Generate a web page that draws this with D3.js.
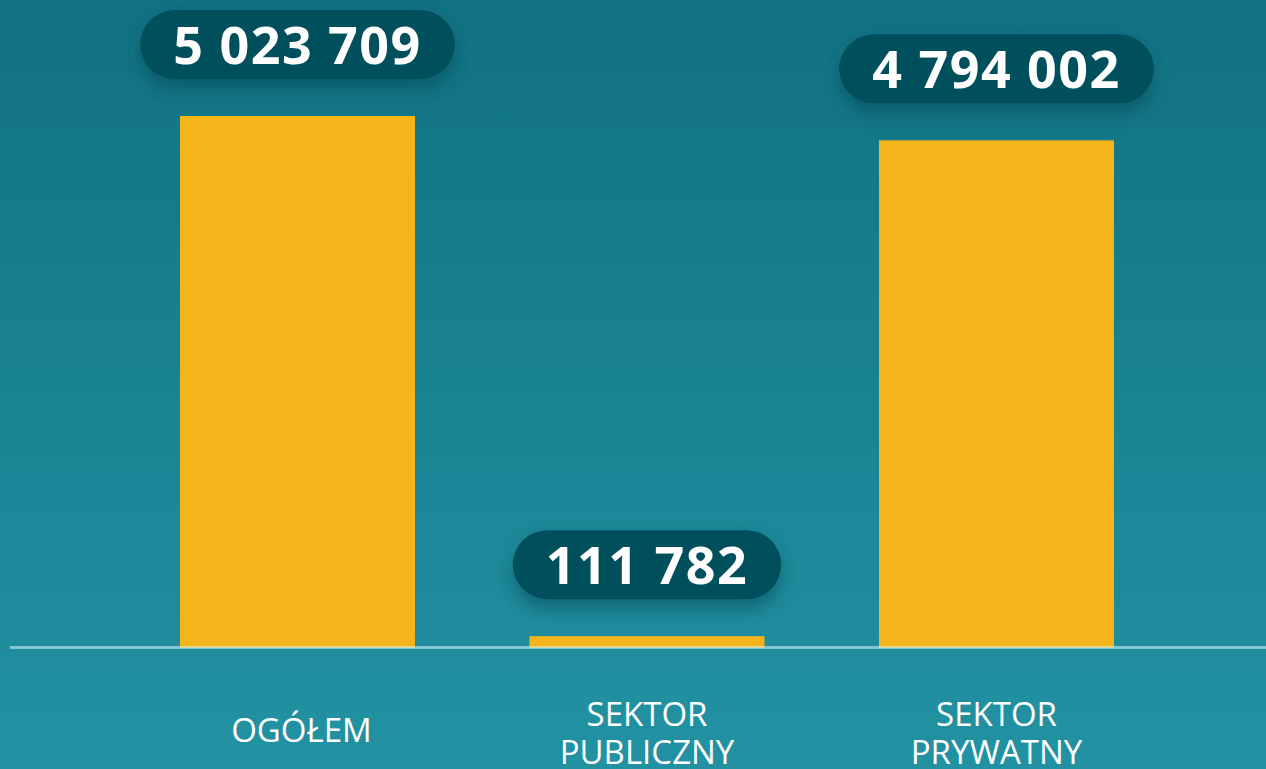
<!DOCTYPE html>
<html>
<head>
<meta charset="utf-8">
<script src="https://cdn.jsdelivr.net/npm/d3@7"></script>
<style>
  html, body { margin: 0; padding: 0; overflow: hidden; }
  #myPlot { width: 1266px; height: 769px; }
</style>
</head>
<body>
<div id="myPlot"></div>
<script>
// chart data
const categories = ['OGÓŁEM', 'SEKTOR PUBLICZNY', 'SEKTOR PRYWATNY'];
const categoryLines = [['OGÓŁEM'], ['SEKTOR', 'PUBLICZNY'], ['SEKTOR', 'PRYWATNY']];
const values = [5023709, 111782, 4794002];
const valueLabels = ['5 023 709', '111 782', '4 794 002'];

const width = 1266;
const height = 769;
const baseY = 648;

const svg = d3.select('#myPlot')
  .append('svg')
    .attr('width', width)
    .attr('height', height);

const defs = svg.append('defs');
const grad = defs.append('linearGradient')
  .attr('id', 'bg')
  .attr('x1', 0).attr('y1', 0).attr('x2', 0).attr('y2', 1);
grad.append('stop').attr('offset', '0%').attr('stop-color', '#107282');
grad.append('stop').attr('offset', '100%').attr('stop-color', '#2292a3');

const shadow = defs.append('filter')
  .attr('id', 'shadow')
  .attr('x', '-20%').attr('y', '-30%')
  .attr('width', '140%').attr('height', '190%');
shadow.append('feDropShadow')
  .attr('dx', 0).attr('dy', 10)
  .attr('stdDeviation', 9)
  .attr('flood-color', '#043c46')
  .attr('flood-opacity', 0.45);

svg.append('rect')
  .attr('width', width)
  .attr('height', height)
  .attr('fill', 'url(#bg)');

// scales
const x = d3.scaleBand()
  .domain(categories)
  .range([122.75, 1171.25])
  .paddingInner(0.3276)
  .paddingOuter(0.1638);

const y = d3.scaleLinear()
  .domain([0, d3.max(values)])
  .range([baseY, 116]);

// bars
svg.selectAll('rect.bar')
  .data(values)
  .enter()
  .append('rect')
    .attr('class', 'bar')
    .attr('x', (d, i) => x(categories[i]))
    .attr('y', d => y(d))
    .attr('width', x.bandwidth())
    .attr('height', d => baseY - y(d))
    .attr('fill', '#f4b41a');

// baseline
svg.append('line')
  .attr('x1', 10).attr('x2', width)
  .attr('y1', baseY - 0.5).attr('y2', baseY - 0.5)
  .attr('stroke', '#c6eef3')
  .attr('stroke-opacity', 0.6)
  .attr('stroke-width', 3);

// value pills
const pillH = 69;
const pills = svg.selectAll('g.pill')
  .data(values)
  .enter()
  .append('g')
    .attr('class', 'pill')
    .attr('transform', (d, i) => 'translate(' + (x(categories[i]) + x.bandwidth() / 2) + ',' + (y(d) - 37 - pillH / 2) + ')');

pills.each(function(d, i) {
  const g = d3.select(this);
  const bg = g.append('rect');
  const t = g.append('text')
    .attr('text-anchor', 'middle')
    .attr('y', 19)
    .attr('fill', '#ffffff')
    .style('font-family', '"Open Sans", "Noto Sans", sans-serif')
    .style('font-weight', 700)
    .style('font-size', '52px')
    .style('letter-spacing', '1.5px')
    .text(valueLabels[i]);
  const w = t.node().getComputedTextLength() + 66;
  bg.attr('x', -w / 2)
    .attr('y', -pillH / 2)
    .attr('width', w)
    .attr('height', pillH)
    .attr('rx', pillH / 2)
    .attr('fill', '#044f5d')
    .attr('filter', 'url(#shadow)');
});

// category labels
const labels = svg.selectAll('text.cat')
  .data(categoryLines)
  .enter()
  .append('text')
    .attr('class', 'cat')
    .attr('text-anchor', 'middle')
    .attr('fill', '#ffffff')
    .style('font-family', '"Open Sans", "Noto Sans", sans-serif')
    .style('font-size', '33px')
    .attr('x', (d, i) => x(categories[i]) + x.bandwidth() / 2 + (i === 0 ? 4 : 0))
    .attr('y', d => d.length === 1 ? 742 : 726);

labels.selectAll('tspan')
  .data(d => d)
  .enter()
  .append('tspan')
    .attr('x', function() { return d3.select(this.parentNode).attr('x'); })
    .attr('dy', (d, i) => i === 0 ? 0 : 38)
    .text(d => d);
</script>
</body>
</html>
